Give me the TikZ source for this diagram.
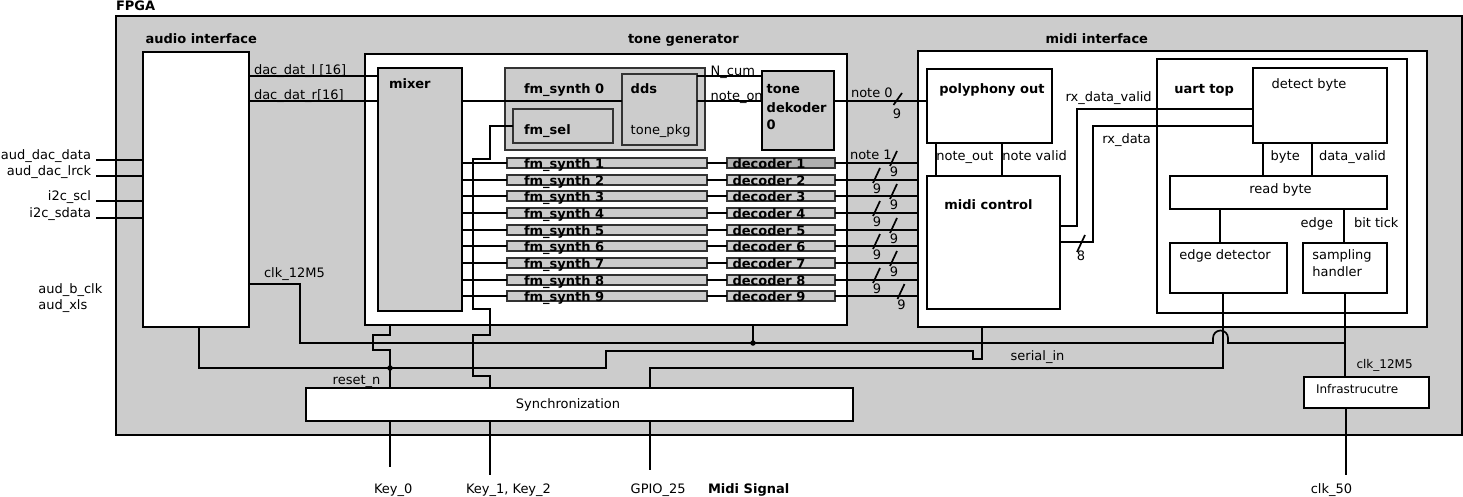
\documentclass[tikz,border=0pt]{standalone}
\usepackage{fontspec}
\setmainfont{DejaVu Sans}
\definecolor{fpgagray}{RGB}{204,204,204}
\definecolor{deconecol}{RGB}{176,176,176}
\tikzset{
  lbl/.style={font=\fontsize{13}{15}\selectfont, inner sep=0pt, outer sep=0pt, anchor=base west},
  slbl/.style={font=\fontsize{12}{14}\selectfont, inner sep=0pt, outer sep=0pt, anchor=base west},
  blbl/.style={font=\fontsize{13}{15}\selectfont\bfseries, inner sep=0pt, outer sep=0pt, anchor=base west},
  wire/.style={line width=1.7pt},
  blk/.style={draw, line width=1.8pt, inner sep=0pt, outer sep=0pt},
  gblk/.style={blk, fill=fpgagray},
  wblk/.style={blk, fill=white},
  sblk/.style={blk, fill=fpgagray, draw=black!80, line width=2.2pt},
  rblk/.style={blk, fill=fpgagray, draw=black!80, line width=2pt},
  jdot/.style={circle, fill, inner sep=0pt, minimum size=5.5pt},
}
\newcommand{\mybox}[6]{\node[#6, anchor=north west, minimum width={(#4-#2)*1pt}, minimum height={(#5-#3)*1pt}] (#1) at (#2,#3) {};}
\begin{document}
\begin{tikzpicture}[x=1pt,y=-1pt]
\useasboundingbox (0,0) rectangle (1463,496);
% ---------- boxes
\mybox{fpga}{116}{16}{1462}{435}{gblk}
\mybox{aud}{143}{52}{249}{327}{wblk}
\mybox{tg}{365}{54}{847}{325}{wblk}
\mybox{mix}{378}{68}{462}{311}{gblk}
\mybox{fs0}{505}{68}{705}{150}{sblk}
\mybox{dds}{622}{74}{697}{145}{sblk}
\mybox{fsel}{513}{109}{613}{143}{sblk}
\mybox{tdk}{762}{71}{834}{150}{gblk}
\mybox{mi}{918}{51}{1427}{327}{wblk}
\mybox{poly}{927}{69}{1052}{143}{wblk}
\mybox{mctl}{927}{176}{1060}{309}{wblk}
\mybox{uart}{1157}{59}{1407}{313}{wblk}
\mybox{det}{1253}{68}{1387}{143}{wblk}
\mybox{rb}{1170}{176}{1387}{209}{wblk}
\mybox{ed}{1170}{243}{1287}{293}{wblk}
\mybox{sh}{1303}{243}{1387}{293}{wblk}
\mybox{sync}{306}{388}{853}{421}{wblk}
\mybox{infra}{1304}{377}{1429}{408}{wblk}
% ---------- titles
\node[blbl] (tfpga) at (116,10) {FPGA};
\node[blbl] (taud) at (145.5,43) {audio interface};
\node[blbl] (ttg) at (628,43) {tone generator};
\node[blbl, anchor=base east] (tmi) at (1148,43) {midi interface};
% ---------- audio interface
\node[lbl, anchor=base east] (lad) at (91,159) {aud\_dac\_data};
\node[lbl, anchor=base east] (lal) at (91,175) {aud\_dac\_lrck};
\node[lbl, anchor=base east] (lsc) at (91,200) {i2c\_scl};
\node[lbl, anchor=base east] (lsd) at (91,217) {i2c\_sdata};
\draw[wire] ([xshift=5pt,yshift=-1pt]lad.base east) -- (aud.west |- 0,160);
\draw[wire] ([xshift=5pt,yshift=-1pt]lal.base east) -- (aud.west |- 0,176);
\draw[wire] ([xshift=5pt,yshift=-1pt]lsc.base east) -- (aud.west |- 0,201);
\draw[wire] ([xshift=5pt,yshift=-1pt]lsd.base east) -- (aud.west |- 0,218);
\node[lbl] (lbc) at (38.3,293) {aud\_b\_clk};
\node[lbl] (lxl) at (38.3,309) {aud\_xls};
\node[lbl] (ldl) at (254,74) {dac\_dat\_l [16]};
\node[lbl] (ldr) at (254,99.5) {dac\_dat\_r[16]};
\node[lbl] (lclk) at (264,277) {clk\_12M5};
\draw[wire] (aud.east |- 0,76) -- (mix.west |- 0,76);
\draw[wire] (aud.east |- 0,101) -- (mix.west |- 0,101);
% ---------- tone generator
\draw[wire] (mix.east |- 0,101) -- (dds.west |- 0,101);
\draw[wire] (dds.east |- 0,76) -- (tdk.west |- 0,76);
\draw[wire] (dds.east |- 0,101) -- (tdk.west |- 0,101);
\node[blbl] (tmix) at (389,88) {mixer};
\node[blbl] (tfs0) at (524,93) {fm\_synth 0};
\node[blbl] (tdds) at (630.7,93) {dds};
\node[blbl] (tfsel) at (524,134.5) {fm\_sel};
\node[lbl] (tpkg) at (630.7,134) {tone\_pkg};
\node[lbl] (tncum) at (710.7,75) {N\_cum};
\node[lbl] (tnon) at (710.7,100) {note\_on};
\node[blbl] (ttd1) at (766.7,93) {tone};
\node[blbl] (ttd2) at (766.7,112.5) {dekoder};
\node[blbl] (ttd3) at (766.7,129) {0};
\foreach \k/\ry/\xs in {1/163/893.5,2/180/876.5,3/196/893.5,4/213/876.5,5/230/893.5,6/246/876.5,7/263/893.5,8/280/876.5,9/296/901}{
  \pgfmathsetmacro{\ya}{\ry-5}
  \pgfmathsetmacro{\yb}{\ry+5}
  \ifnum\k=1 \def\dcol{deconecol}\else\def\dcol{fpgagray}\fi
  \mybox{fs\k}{507}{\ya}{707}{\yb}{rblk}
  \mybox{dec\k}{727}{\ya}{835}{\yb}{rblk, fill=\dcol}
  \node[blbl] (tfs\k) at (524,\ry+5) {fm\_synth \k};
  \node[blbl] (tdec\k) at (732.5,\ry+5) {decoder \k};
  \draw[wire] (mix.east |- fs\k.west) -- (fs\k.west);
  \draw[wire] (fs\k.east) -- (dec\k.west);
  \draw[wire] (dec\k.east) -- (mi.west |- dec\k.east);
  \draw[wire] (\xs-3.5,\ry+3) -- (\xs+3.5,\ry-12);
  \node[lbl, anchor=base] (nn\k) at (\xs+0.5,\ry+13) {9};
}
% note 0
\draw[wire] (tdk.east |- 0,101) -- (poly.west |- 0,101);
\draw[wire] (893.5,105) -- (902,93);
\node[lbl, anchor=base] (nn0) at (897,118) {9};
\node[lbl] (tn0) at (851,97) {note 0};
\node[lbl] (tn1) at (850,159.5) {note 1};
% key path to fm_sel
\draw[wire] (sync.north -| 490,0) |- (473,376) |- (490,335) |- (473,309) |- (490,159) |- (fsel.west);
% ---------- midi interface
\draw[wire] (poly.south -| 936,0) -- (mctl.north -| 936,0);
\draw[wire] (poly.south -| 1002,0) -- (mctl.north -| 1002,0);
\draw[wire] (mctl.east |- 0,226) -| (1077,109) -- (det.west |- 0,109);
\draw[wire] (mctl.east |- 0,242) -| (1093,126) -- (det.west |- 0,126);
\draw[wire] (1077,252) -- (1085,235);
\node[lbl, anchor=base] (t8) at (1081,260) {8};
\draw[wire] (det.south -| 1263,0) -- (rb.north -| 1263,0);
\draw[wire] (det.south -| 1312,0) -- (rb.north -| 1312,0);
\draw[wire] (rb.south -| 1220,0) -- (ed.north -| 1220,0);
\draw[wire] (rb.south -| 1344,0) -- (sh.north -| 1344,0);
\node[blbl] (tpoly) at (939.3,93) {polyphony out};
\node[lbl] (tnout) at (936.3,160) {note\_out};
\node[lbl] (tnval) at (1002.3,160) {note valid};
\node[blbl] (tmctl) at (944.3,209) {midi control};
\node[lbl, anchor=base east] (trxv) at (1151.7,101.5) {rx\_data\_valid};
\node[lbl] (trx) at (1102.3,143) {rx\_data};
\node[blbl] (tuart) at (1174.3,93) {uart top};
\node[lbl] (tdet) at (1271.7,88) {detect byte};
\node[lbl] (tbyte) at (1270.7,160) {byte};
\node[lbl] (tdv) at (1319,160) {data\_valid};
\node[lbl, anchor=base] (trb) at (1280.5,193) {read byte};
\node[lbl] (tedge) at (1300.7,227) {edge};
\node[lbl] (ttick) at (1354,227) {bit tick};
\node[lbl] (ted) at (1179.3,259) {edge detector};
\node[lbl] (tsh1) at (1312.3,259) {sampling};
\node[lbl] (tsh2) at (1312.3,276) {handler};
% ---------- bottom wiring
\draw[wire] (infra.north -| 1345,0) -- (sh.south -| 1345,0);
\draw[wire] (sync.north -| 650,0) |- (1223,368) -- (ed.south -| 1223,0);
\draw[wire] (aud.east |- 0,284) -| (300,343) -- (1213,343) -- (1213,338) arc (180:0:7.5pt) -- (1228,343) -- (1345,343);
\draw[wire] (tg.south -| 753,0) -- (753,343);
\node[jdot] (j2) at (753,343) {};
\draw[wire] (aud.south -| 199,0) |- (606,368) |- (973,351) |- (982,359) -- (mi.south -| 982,0);
\draw[wire] (sync.north -| 390,0) |- (373,350) |- (390,335) -- (tg.south -| 390,0);
\node[jdot] (j1) at (390,368) {};
\coordinate (k0) at (390,467);
\coordinate (k12) at (490,475);
\coordinate (gp) at (650,470);
\coordinate (c50) at (1346,475);
\draw[wire] (sync.south -| k0) -- (k0);
\draw[wire] (sync.south -| k12) -- (k12);
\draw[wire] (sync.south -| gp) -- (gp);
\draw[wire] (infra.south -| c50) -- (c50);
\node[lbl, anchor=base] (tsync) at (568,408) {Synchronization};
\node[lbl] (treset) at (332.7,384) {reset\_n};
\node[lbl] (tser) at (1010.7,360) {serial\_in};
\node[slbl] (tclk2) at (1356.5,368) {clk\_12M5};
\node[slbl] (tinfra) at (1316,393) {Infrastrucutre};
\node[lbl] (tk0) at (374,493) {Key\_0};
\node[lbl] (tk12) at (466,493) {Key\_1, Key\_2};
\node[lbl] (tgp) at (630.7,493) {GPIO\_25};
\node[blbl] (tmidi) at (708,493) {Midi Signal};
\node[lbl] (tc50) at (1310.8,493) {clk\_50};
\end{tikzpicture}
\end{document}
